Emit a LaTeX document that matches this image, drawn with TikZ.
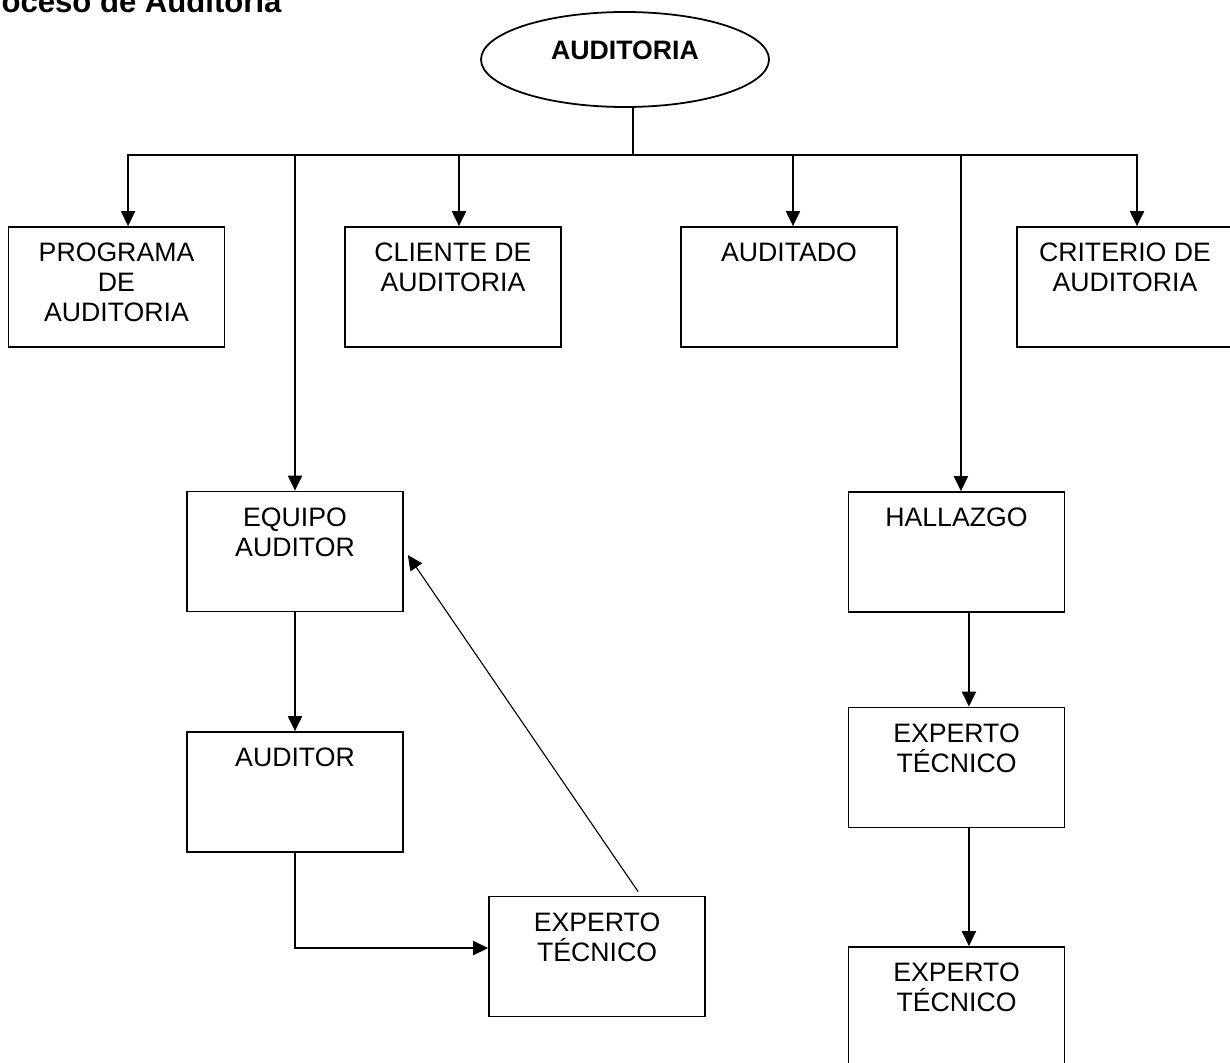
\documentclass[tikz,border=0pt]{standalone}
\usepackage{fontspec}
\setmainfont{Liberation Sans}
\usetikzlibrary{shapes.geometric,arrows.meta}

\begin{document}
\begin{tikzpicture}[x=0.45pt,y=-0.45pt,
  every node/.style={font=\fontsize{12}{13.5}\selectfont},
  caja/.style={draw,line width=0.8pt,minimum width=97.2pt,minimum height=54pt,
    label={[anchor=north,inner sep=0pt,yshift=-7.4pt,align=center]north:{#1}}},
  flecha/.style={line width=0.8pt,-{Triangle[length=6.7pt,width=6.3pt]}},
  linea/.style={line width=0.8pt}]
\useasboundingbox (0,0) rectangle (1230,1063);
\node[anchor=base east,inner sep=0pt,font=\bfseries\fontsize{14}{16}\selectfont] (titulo) at (282,12) {Proceso de Auditoria};
\node[draw,ellipse,line width=0.8pt,minimum width=129.6pt,minimum height=42.75pt,
  font=\bfseries\fontsize{12}{13.5}\selectfont,text height=8.6pt,text depth=9pt] (auditoria) at (625,59.5) {AUDITORIA};
\node[caja={PROGRAMA\\DE\\AUDITORIA}] (programa) at (116.5,287) {};
\node[caja={CLIENTE DE\\AUDITORIA}] (cliente) at (453,287) {};
\node[caja={AUDITADO}] (auditado) at (789,287) {};
\node[caja={CRITERIO DE\\AUDITORIA}] (criterio) at (1125,287) {};
\node[caja={EQUIPO\\AUDITOR}] (equipo) at (295,551.5) {};
\node[caja={AUDITOR}] (auditor) at (295,792) {};
\node[caja={EXPERTO\\TÉCNICO}] (expertoA) at (597,956.5) {};
\node[caja={HALLAZGO}] (hallazgo) at (956.5,552) {};
\node[caja={EXPERTO\\TÉCNICO}] (expertoB) at (956.5,767.5) {};
\node[caja={EXPERTO\\TÉCNICO}] (expertoC) at (956.5,1007) {};
\coordinate (bus) at (633,155);
\draw[linea] ([xshift=3.6pt]auditoria.south) -- (bus);
\draw[flecha] (bus) -| ([xshift=5.2pt]programa.north);
\draw[flecha] (bus) -| ([xshift=2.7pt]cliente.north);
\draw[flecha] (bus) -| ([xshift=1.8pt]auditado.north);
\draw[flecha] (bus) -| ([xshift=5.4pt]criterio.north);
\draw[flecha] (bus) -| (equipo.north);
\draw[flecha] (bus) -| ([xshift=2pt]hallazgo.north);
\draw[flecha] (equipo) -- (auditor);
\draw[flecha] (auditor.south) |- ([yshift=3.8pt]expertoA.west);
\draw[flecha,line width=0.5pt] ([xshift=18.5pt,yshift=1.8pt]expertoA.north) -- ([xshift=1.8pt,yshift=-1.6pt]equipo.east);
\draw[flecha] ([xshift=5.6pt]hallazgo.south) -- ([xshift=5.6pt]expertoB.north);
\draw[flecha] ([xshift=5.6pt]expertoB.south) -- ([xshift=5.6pt]expertoC.north);
\end{tikzpicture}
\end{document}
